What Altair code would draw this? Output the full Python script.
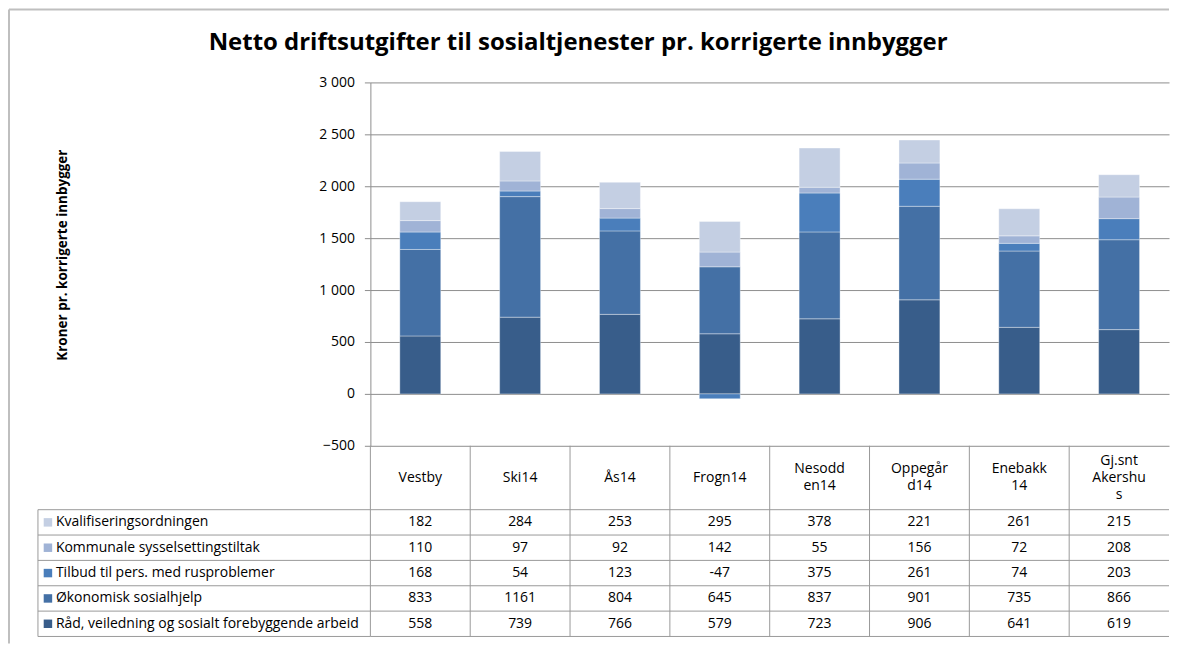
import altair as alt
import pandas as pd

# ---------------- data ----------------
categories = ["Vestby", "Ski14", "Ås14", "Frogn14", "Nesodden14", "Oppegård14", "Enebakk14", "Gj.snt Akershus"]
header_labels = ["Vestby", "Ski14", "Ås14", "Frogn14", "Nesodd\nen14", "Oppegår\nd14", "Enebakk\n14", "Gj.snt\nAkershu\ns"]

# stacking order bottom -> top
series = [
    "Råd, veiledning og sosialt forebyggende arbeid",
    "Økonomisk sosialhjelp",
    "Tilbud til pers. med rusproblemer",
    "Kommunale sysselsettingstiltak",
    "Kvalifiseringsordningen",
]
colors = ["#385D8A", "#4470A5", "#4A7EBB", "#A0B3D6", "#C4CFE3"]

raad = [558, 739, 766, 579, 723, 906, 641, 619]
okonomisk = [833, 1161, 804, 645, 837, 901, 735, 866]
tilbud = [168, 54, 123, -47, 375, 261, 74, 203]
kommunale = [110, 97, 92, 142, 55, 156, 72, 208]
kvalifisering = [182, 284, 253, 295, 378, 221, 261, 215]

y_ticks = [-500, 0, 500, 1000, 1500, 2000, 2500, 3000]
y_domain = [-500, 3000]

title_text = "Netto driftsutgifter til sosialtjenester pr. korrigerte innbygger"
y_title = "Kroner pr. korrigerte innbygger"

values_by_series = [raad, okonomisk, tilbud, kommunale, kvalifisering]

# ---------------- tables ----------------
rows = []
for si, (s, vals) in enumerate(zip(series, values_by_series)):
    for c, v in zip(categories, vals):
        rows.append({"cat": c, "series": s, "value": v, "order": si})
bar_df = pd.DataFrame(rows)

FONT = "Open Sans"
GRID = "#8E8E8E"
LINE = "#9A9A9A"
FS = 14

W_LEFT = 333
W_PLOT = 800
H_PLOT = 364
H_TAB = 191
HEADER_U = 2.52          # header row height in row units
N_ROWS = len(series)
TAB_MAX = HEADER_U + N_ROWS
UNIT_PX = H_TAB / TAB_MAX
LINE_H = 17

color_scale = alt.Scale(domain=series, range=colors)
x_scale = alt.Scale(domain=categories, paddingInner=0, paddingOuter=0)
tab_y_scale = alt.Scale(domain=[0, TAB_MAX], reverse=True, nice=False, zero=False)

# table rows from top: Kvalifisering ... Råd
table_rows = []
for ri, si in enumerate(range(N_ROWS - 1, -1, -1)):
    table_rows.append({"series": series[si], "yc": HEADER_U + ri + 0.5})
table_rows_df = pd.DataFrame(table_rows)

cells = []
for ri, si in enumerate(range(N_ROWS - 1, -1, -1)):
    for c, v in zip(categories, values_by_series[si]):
        cells.append({"cat": c, "txt": str(v), "yc": HEADER_U + ri + 0.5})
cells_df = pd.DataFrame(cells)

head_rows = []
for c, lab in zip(categories, header_labels):
    n = lab.count("\n") + 1
    head_rows.append({"cat": c, "lab": lab, "yc": HEADER_U / 2 - (n - 1) * LINE_H / 2 / UNIT_PX})
header_df = pd.DataFrame(head_rows)
hlines_df = pd.DataFrame({"b": [HEADER_U + i for i in range(N_ROWS + 1)]})
vlines_df = pd.DataFrame({"cat": categories, "y0": [0] * len(categories), "y1": [TAB_MAX] * len(categories)})

one = pd.DataFrame({"k": [0]})

# ---------------- top-left: axis title + frame ----------------
ytitle = alt.Chart(pd.DataFrame({"t": [y_title]})).mark_text(
    angle=270, fontWeight="bold", fontSize=13.5, font=FONT, color="black"
).encode(text="t:N", x=alt.value(25), y=alt.value(173))

frame_left = alt.Chart(one).mark_rule(color="#BFBFBF", strokeWidth=2).encode(
    x=alt.value(-29), y=alt.value(-73), y2=alt.value(562)
)
frame_top = alt.Chart(one).mark_rule(color="#BFBFBF", strokeWidth=2).encode(
    x=alt.value(-29), x2=alt.value(1133), y=alt.value(-73)
)
top_left = alt.layer(frame_left, frame_top, ytitle).properties(width=W_LEFT, height=H_PLOT)

# ---------------- top-right: stacked bars ----------------
bars = alt.Chart(bar_df).mark_bar(size=41, stroke="white", strokeWidth=0.6, strokeOpacity=0.6).encode(
    x=alt.X("cat:N", sort=categories, scale=x_scale, axis=None),
    y=alt.Y(
        "value:Q",
        stack="zero",
        scale=alt.Scale(domain=y_domain, nice=False),
        axis=alt.Axis(
            values=y_ticks,
            title=None,
            grid=True,
            gridColor=GRID,
            gridWidth=1,
            domainColor=GRID,
            tickColor=GRID,
            tickSize=6,
            labelPadding=10,
            labelFont=FONT,
            labelFontSize=FS,
            labelColor="black",
            labelExpr="replace(format(datum.value, ','), ',', ' ')",
        ),
    ),
    color=alt.Color("series:N", scale=color_scale, legend=None),
    order=alt.Order("order:Q"),
    tooltip=["cat:N", "series:N", "value:Q"],
).properties(width=W_PLOT, height=H_PLOT)

# ---------------- bottom-left: legend column ----------------
bl_rules = alt.Chart(hlines_df).mark_rule(color=LINE, strokeWidth=1).encode(
    y=alt.Y("b:Q", scale=tab_y_scale, axis=None), x=alt.value(0), x2=alt.value(W_LEFT)
)
bl_left = alt.Chart(one).mark_rule(color=LINE, strokeWidth=1).encode(
    x=alt.value(0),
    y=alt.Y("a:Q", scale=tab_y_scale, axis=None),
    y2="a2:Q",
).transform_calculate(a=str(HEADER_U), a2=str(TAB_MAX))
bl_squares = alt.Chart(table_rows_df).mark_square(size=72, opacity=1).encode(
    x=alt.value(10),
    y=alt.Y("yc:Q", scale=tab_y_scale, axis=None),
    color=alt.Color("series:N", scale=color_scale, legend=None),
)
bl_text = alt.Chart(table_rows_df).mark_text(
    align="left", baseline="middle", fontSize=FS, font=FONT, color="black"
).encode(
    x=alt.value(18),
    y=alt.Y("yc:Q", scale=tab_y_scale, axis=None),
    text="series:N",
)
bottom_left = alt.layer(bl_rules, bl_left, bl_squares, bl_text).properties(width=W_LEFT, height=H_TAB)

# ---------------- bottom-right: data table ----------------
br_h = alt.Chart(hlines_df).mark_rule(color=LINE, strokeWidth=1).encode(
    y=alt.Y("b:Q", scale=tab_y_scale, axis=None), x=alt.value(0), x2=alt.value(W_PLOT)
)
br_v = alt.Chart(vlines_df).mark_rule(color=LINE, strokeWidth=1).encode(
    x=alt.X("cat:N", sort=categories, scale=x_scale, axis=None, bandPosition=0),
    y=alt.Y("y0:Q", scale=tab_y_scale, axis=None),
    y2="y1:Q",
)
br_head = alt.Chart(header_df).mark_text(
    fontSize=FS, font=FONT, color="black", lineBreak="\n", lineHeight=LINE_H, baseline="middle"
).encode(
    x=alt.X("cat:N", sort=categories, scale=x_scale, axis=None),
    y=alt.Y("yc:Q", scale=tab_y_scale, axis=None),
    text="lab:N",
)
br_cells = alt.Chart(cells_df).mark_text(
    fontSize=FS, font=FONT, color="black", baseline="middle"
).encode(
    x=alt.X("cat:N", sort=categories, scale=x_scale, axis=None),
    y=alt.Y("yc:Q", scale=tab_y_scale, axis=None),
    text="txt:N",
)
bottom_right = alt.layer(br_h, br_v, br_head, br_cells).properties(width=W_PLOT, height=H_TAB)

chart = (
    alt.concat(top_left, bars, bottom_left, bottom_right, columns=2, spacing=0, bounds="flush")
    .resolve_scale(x="independent", y="independent")
    .properties(
        padding={"left": 0, "top": 0, "right": 0, "bottom": 0},
        title=alt.TitleParams(
            text=title_text,
            anchor="start",
            frame="group",
            dx=171,
            offset=-47,
            fontSize=24,
            fontWeight="bold",
            font=FONT,
            color="black",
        ),
    )
    .configure_view(stroke=None)
)

chart.save("out.html", embed_options={"renderer": "svg", "actions": False})
